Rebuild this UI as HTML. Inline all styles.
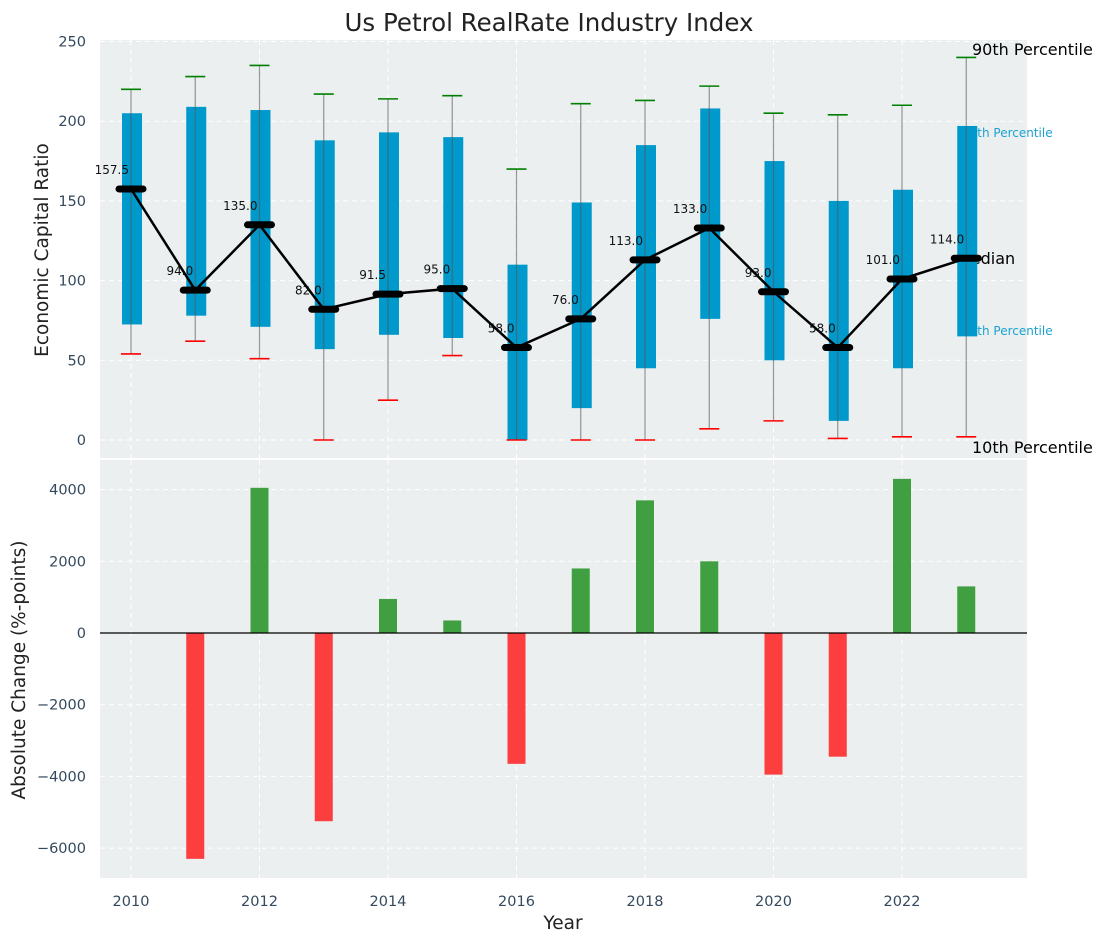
<!DOCTYPE html>
<html><head><meta charset="utf-8"><style>
body{margin:0;background:#fff;}
svg text{font-family:"DejaVu Sans","Liberation Sans",sans-serif;}
</style></head><body>
<svg id="chart" width="1107" height="942" viewBox="0 0 1107 942" xmlns="http://www.w3.org/2000/svg">
<text x="549" y="31" font-size="24.5" text-anchor="middle" fill="#222">Us Petrol RealRate Industry Index</text>
<rect x="100" y="40" width="927" height="418" fill="#ebeff0"/>
<rect x="100" y="460" width="927" height="418" fill="#ebeff0"/>
<g id="topGrid"></g><g id="botGrid"></g>
<text x="957" y="264" font-size="16" fill="#000">Median</text>
<text x="962" y="137" font-size="12" fill="#1aa3cf">75th Percentile</text>
<text x="962" y="335" font-size="12" fill="#1aa3cf">25th Percentile</text>
<g id="marks"></g>
<text transform="translate(48,250) rotate(-90)" font-size="18.5" text-anchor="middle" fill="#222">Economic Capital Ratio</text>
<text transform="translate(25,670) rotate(-90)" font-size="18.5" text-anchor="middle" fill="#222">Absolute Change (%-points)</text>
<text x="563" y="929" font-size="18.5" text-anchor="middle" fill="#222">Year</text>
<text x="972" y="55" font-size="16" fill="#000">90th Percentile</text>
<text x="972" y="453" font-size="16" fill="#000">10th Percentile</text>
</svg>
<script>
const years=[2010,2011,2012,2013,2014,2015,2016,2017,2018,2019,2020,2021,2022,2023];
const p10=[54,62,51,0,25,53,0,0,0,7,12,1,2,2];
const p25=[72.5,78,71,57,66,64,0,20,45,76,50,12,45,65];
const medians=[157.5,94,135,82,91.5,95,58,76,113,133,93,58,101,114];
const p75=[205,209,207,188,193,190,110,149,185,208,175,150,157,197];
const p90=[220,228,235,217,214,216,170,211,213,222,205,204,210,240];
const changes=[0,-6300,4050,-5250,950,350,-3650,1800,3700,2000,-3950,-3450,4300,1300];
const topTicks=[0,50,100,150,200,250];
const botTicks=[-6000,-4000,-2000,0,2000,4000];
const xTicks=[2010,2012,2014,2016,2018,2020,2022];

const NS="http://www.w3.org/2000/svg";
const X=y=>131+(y-2010)*64.25;
const YT=v=>440-v*1.594;
const YB=v=>633-v*0.03585;
function mk(tag,attrs,parent,text){const e=document.createElementNS(NS,tag);for(const k in attrs)e.setAttribute(k,attrs[k]);if(text!==undefined)e.textContent=text;parent.appendChild(e);return e;}
const tg=document.getElementById('topGrid'),bg=document.getElementById('botGrid'),m=document.getElementById('marks');
const tc="#34495e";
topTicks.forEach(t=>{const y=YT(t);
 const l=mk('line',{x1:100,x2:1027,y1:y,y2:y,stroke:'#fff','stroke-dasharray':'5,4','stroke-width':1},tg);
 
 const tx=mk('text',{x:86,y:y+5,'font-size':14.5,'text-anchor':'end',fill:tc},tg,String(t));
 });
botTicks.forEach(t=>{const y=YB(t);
 const l=mk('line',{x1:100,x2:1027,y1:y,y2:y,stroke:'#fff','stroke-dasharray':'5,4','stroke-width':1},bg);
 
 const tx=mk('text',{x:86,y:y+5,'font-size':14.5,'text-anchor':'end',fill:tc},bg,String(t).replace('-','\u2212'));
 });
xTicks.forEach(t=>{const x=X(t);
 [[40,458,tg],[460,878,bg]].forEach(([a,b,g])=>{const l=mk('line',{x1:x,x2:x,y1:a,y2:b,stroke:'#fff','stroke-dasharray':'5,4','stroke-width':1},g);
 });
 const tx=mk('text',{x:x,y:906,'font-size':14.5,'text-anchor':'middle',fill:tc},bg,String(t));
 });
years.forEach((yr,i)=>{const x=X(yr);
 const b=mk('rect',{x:x-9,y:YT(p75[i]),width:20,height:YT(p25[i])-YT(p75[i]),fill:'#0099cc'},m);
 
 const w=mk('line',{x1:x,x2:x,y1:YT(p90[i]),y2:YT(p10[i]),stroke:'#555','stroke-opacity':0.6,'stroke-width':1.2},m);
 
 const c1=mk('line',{x1:x-10,x2:x+10,y1:YT(p90[i]),y2:YT(p90[i]),stroke:'green','stroke-width':1.6},m);
 
 const c2=mk('line',{x1:x-10,x2:x+10,y1:YT(p10[i]),y2:YT(p10[i]),stroke:'red','stroke-width':1.6},m);
 
 const v=changes[i];
 if(v!==0){const br=mk('rect',{x:x-9,y:Math.min(YB(v),YB(0)),width:18,height:Math.abs(YB(v)-YB(0)),fill:v>0?'#2e962e':'#ff2a2a','fill-opacity':0.9},m);
 }
});
const pl=mk('polyline',{points:years.map((y,i)=>X(y)+','+YT(medians[i])).join(' '),fill:'none',stroke:'#000','stroke-width':2.5},m);

years.forEach((yr,i)=>{const x=X(yr),y=YT(medians[i]);
 const mm=mk('line',{x1:x-12,x2:x+12,y1:y,y2:y,stroke:'#000','stroke-width':7,'stroke-linecap':'round'},m);
 
 const t=mk('text',{x:x-2,y:y-15,'font-size':12,'text-anchor':'end',fill:'#111'},m,medians[i].toFixed(1));
 });
const z=mk('line',{x1:100,x2:1027,y1:YB(0),y2:YB(0),stroke:'#000','stroke-width':1.2},m);

</script>
</body></html>
